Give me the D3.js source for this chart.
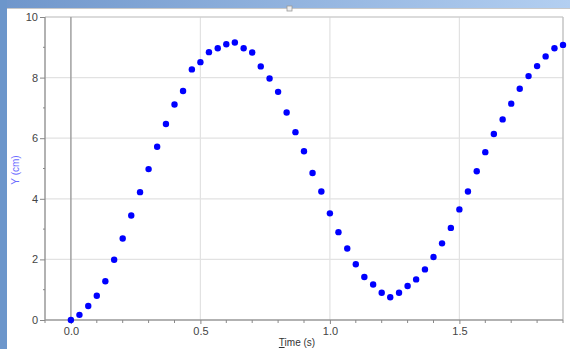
<!DOCTYPE html>
<head>
<meta charset="utf-8">
<style>
body { margin: 0; background: #fff; }
svg { display: block; font-family: "Liberation Sans", Arial, sans-serif; }
.tick text { fill: #444; font-size: 11px; }
.grid line { stroke: #e2e2e2; stroke-width: 1.2px; }
</style>
<script src="https://d3js.org/d3.v7.min.js"></script>
</head>
<body>
<svg width="570" height="349"></svg>
<script>

// time (s), sampled at 30 Hz
var times = [0.000, 0.033, 0.067, 0.100, 0.133, 0.167, 0.200, 0.233, 0.267, 0.300,
             0.333, 0.367, 0.400, 0.433, 0.467, 0.500, 0.533, 0.567, 0.600, 0.633,
             0.667, 0.700, 0.733, 0.767, 0.800, 0.833, 0.867, 0.900, 0.933, 0.967,
             1.000, 1.033, 1.067, 1.100, 1.133, 1.167, 1.200, 1.233, 1.267, 1.300,
             1.333, 1.367, 1.400, 1.433, 1.467, 1.500, 1.533, 1.567, 1.600, 1.633,
             1.667, 1.700, 1.733, 1.767, 1.800, 1.833, 1.867, 1.900];

// Y (cm)
var yValues = [0.00, 0.17, 0.46, 0.80, 1.28, 1.99, 2.69, 3.45, 4.22, 4.98,
               5.72, 6.47, 7.11, 7.56, 8.27, 8.51, 8.84, 8.97, 9.10, 9.16,
               8.97, 8.83, 8.37, 7.97, 7.53, 6.85, 6.20, 5.57, 4.85, 4.24,
               3.52, 2.90, 2.36, 1.84, 1.42, 1.17, 0.90, 0.75, 0.90, 1.12,
               1.34, 1.67, 2.08, 2.53, 3.04, 3.65, 4.24, 4.91, 5.54, 6.14,
               6.62, 7.14, 7.63, 8.05, 8.38, 8.70, 8.97, 9.08];

var xTicks = [0.0, 0.5, 1.0, 1.5],
    xMinor = [-0.1, 0.1, 0.2, 0.3, 0.4, 0.6, 0.7, 0.8, 0.9, 1.1, 1.2, 1.3, 1.4, 1.6, 1.7, 1.8, 1.9],
    yTicks = [0, 2, 4, 6, 8, 10],
    yMinor = [1, 3, 5, 7, 9];

var data = times.map(function(t, i) { return {t: t, y: yValues[i]}; });

var svg = d3.select("svg");

// window chrome
var grad = svg.append("defs").append("linearGradient").attr("id", "bar");
grad.append("stop").attr("offset", "0%").attr("stop-color", "#6f96cb");
grad.append("stop").attr("offset", "100%").attr("stop-color", "#b3cff1");
svg.append("rect").attr("x", 0).attr("y", 0).attr("width", 570).attr("height", 8).attr("fill", "url(#bar)");
svg.append("rect").attr("x", 0).attr("y", 0).attr("width", 7).attr("height", 349).attr("fill", "#6c96cb");
svg.append("line").attr("x1", 7).attr("x2", 570).attr("y1", 8.5).attr("y2", 8.5).attr("stroke", "#c8c8c8");
svg.append("rect").attr("x", 287).attr("y", 6).attr("width", 5).attr("height", 5)
    .attr("fill", "#eee").attr("stroke", "#999").attr("stroke-width", 0.8);

var margin = {top: 17, right: 7, bottom: 29, left: 45},
    width = 570 - margin.left - margin.right,
    height = 349 - margin.top - margin.bottom,
    g = svg.append("g").attr("transform", "translate(" + margin.left + "," + margin.top + ")");

var x = d3.scaleLinear().domain([-0.1, 1.9]).range([0, width]);
var y = d3.scaleLinear().domain([0, 10]).range([height, 0]);

// grid
g.append("g").attr("class", "grid")
  .selectAll("line").data(xTicks.filter(function(d) { return d !== 0; }))
  .enter().append("line")
    .attr("x1", function(d) { return x(d); }).attr("x2", function(d) { return x(d); })
    .attr("y1", 0).attr("y2", height);

g.append("g").attr("class", "grid")
  .selectAll("line").data(yTicks.filter(function(d) { return d !== 0 && d !== 10; }))
  .enter().append("line")
    .attr("x1", 0).attr("x2", width)
    .attr("y1", function(d) { return y(d); }).attr("y2", function(d) { return y(d); });

// frame top/right
g.append("line").attr("x1", 0).attr("x2", width).attr("y1", 0).attr("y2", 0).attr("stroke", "#cfcfcf").attr("stroke-width", 1.5);
g.append("line").attr("x1", width).attr("x2", width).attr("y1", 0).attr("y2", height).attr("stroke", "#c4c4c4").attr("stroke-width", 1.5);

// zero line
g.append("line").attr("x1", x(0)).attr("x2", x(0)).attr("y1", 0).attr("y2", height)
    .attr("stroke", "#a0a0a0").attr("stroke-width", 1.5);

// axes
var xAxis = g.append("g").attr("transform", "translate(0," + height + ")")
    .call(d3.axisBottom(x).tickValues(xTicks).tickFormat(d3.format(".1f")).tickSize(4).tickPadding(3));
xAxis.append("g").selectAll("line").data(xMinor).enter().append("line")
    .attr("x1", function(d) { return x(d); }).attr("x2", function(d) { return x(d); })
    .attr("y1", 0).attr("y2", 3);

var yAxis = g.append("g")
    .call(d3.axisLeft(y).tickValues(yTicks).tickSize(5).tickPadding(2));
yAxis.append("g").selectAll("line").data(yMinor).enter().append("line")
    .attr("x1", 0).attr("x2", -2)
    .attr("y1", function(d) { return y(d); }).attr("y2", function(d) { return y(d); });

[xAxis, yAxis].forEach(function(a) {
  a.select(".domain").attr("stroke", "#999").attr("stroke-width", 1.5);
  a.selectAll("line").attr("stroke", "#888");
});
xAxis.select(".domain").attr("d", "M0,0H" + width);
yAxis.select(".domain").attr("d", "M0,0V" + height);

// axis labels
var xl = svg.append("text")
    .attr("x", 297).attr("y", 346)
    .attr("text-anchor", "middle")
    .style("font-size", "10px").style("fill", "#333");
xl.append("tspan").style("text-decoration", "underline").text("T");
xl.append("tspan").text("ime (s)");

svg.append("text")
    .attr("transform", "translate(19,170) rotate(-90)")
    .attr("text-anchor", "middle")
    .style("font-size", "10px").style("fill", "#6b6bff")
    .text("Y (cm)");

// points
g.append("g").selectAll("circle").data(data).enter().append("circle")
    .attr("cx", function(d) { return x(d.t); })
    .attr("cy", function(d) { return y(d.y); })
    .attr("r", 3.2)
    .attr("fill", "#0000ff");

</script>
</body>
</html>
